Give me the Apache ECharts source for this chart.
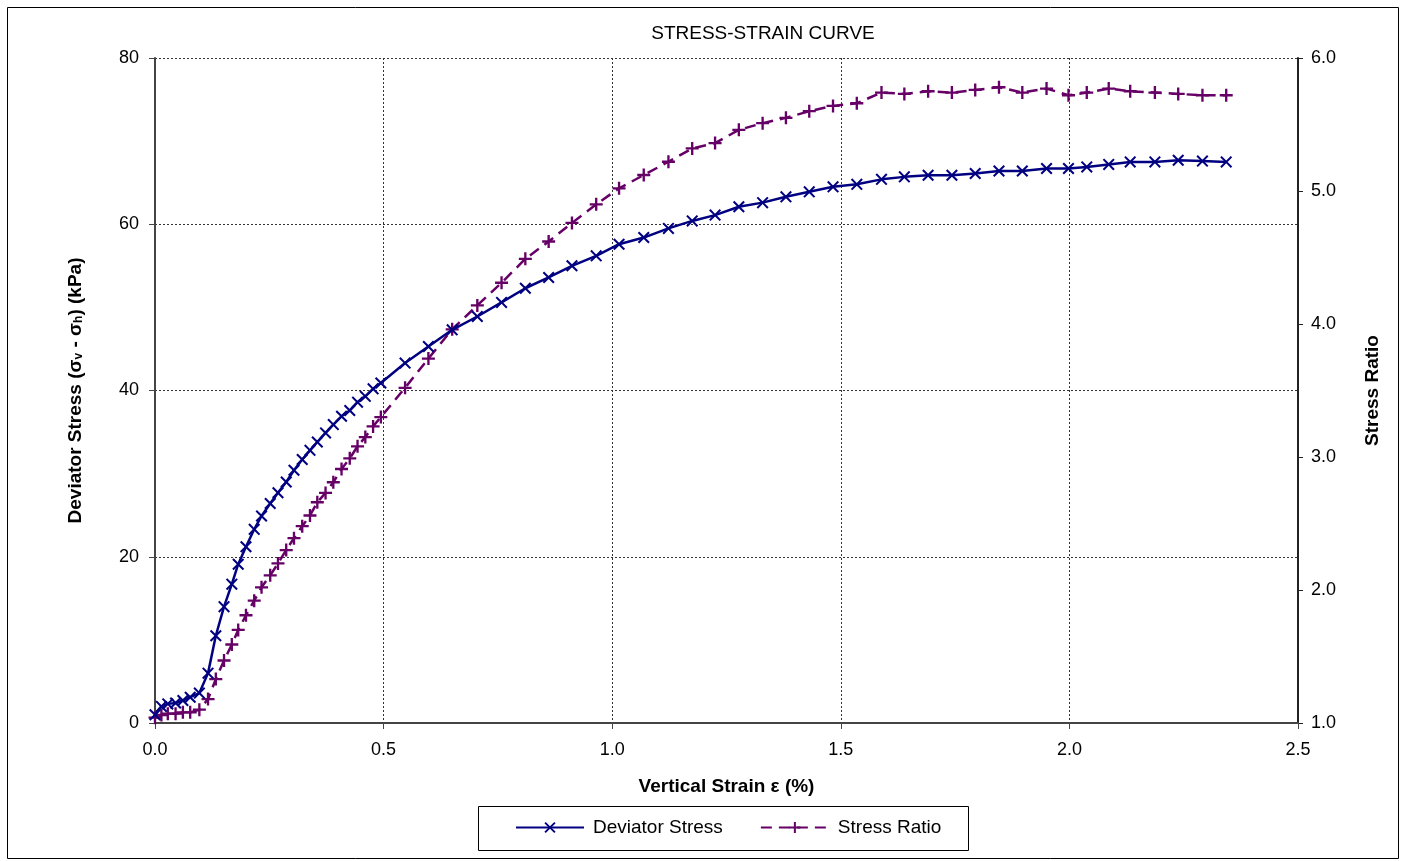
<!DOCTYPE html>
<html>
<head>
<meta charset="utf-8">
<script src="https://cdn.jsdelivr.net/npm/echarts@6/dist/echarts.min.js"></script>
<style>
  html, body { margin: 0; padding: 0; background: #fff; }
  #chart { width: 1406px; height: 861px; }
</style>
</head>
<body>
<div id="chart"></div>
<script>
// Vertical strain (%) at each reading
const strain = [0.000,0.014,0.028,0.045,0.061,0.077,0.097,0.116,0.133,0.151,
  0.168,0.182,0.199,0.217,0.233,0.252,0.269,0.287,0.304,0.322,
  0.339,0.355,0.373,0.390,0.408,0.426,0.443,0.460,0.477,0.494,
  0.547,0.598,0.650,0.705,0.758,0.810,0.861,0.912,0.965,1.015,
  1.069,1.123,1.175,1.225,1.277,1.329,1.380,1.431,1.483,1.535,
  1.589,1.639,1.691,1.743,1.794,1.846,1.897,1.950,1.998,2.038,
  2.086,2.133,2.187,2.238,2.291,2.343];

// Deviator stress (kPa)
const deviatorStress = [1.0,2.0,2.3,2.4,2.7,3.1,3.6,6.0,10.5,14.0,
  16.7,19.1,21.2,23.3,24.9,26.4,27.7,29.0,30.4,31.7,
  32.8,33.8,34.9,35.9,36.9,37.6,38.6,39.3,40.2,40.9,
  43.3,45.3,47.3,48.9,50.6,52.3,53.6,55.0,56.2,57.6,
  58.4,59.5,60.4,61.1,62.1,62.6,63.3,63.9,64.5,64.8,
  65.4,65.7,65.9,65.9,66.1,66.4,66.4,66.7,66.7,66.9,
  67.2,67.5,67.5,67.7,67.6,67.5];

// Stress ratio (sigma_v / sigma_h)
const stressRatio = [1.04,1.06,1.07,1.07,1.08,1.08,1.10,1.18,1.33,1.47,
  1.59,1.70,1.81,1.92,2.02,2.11,2.20,2.30,2.39,2.48,
  2.56,2.66,2.73,2.81,2.91,2.99,3.08,3.15,3.23,3.30,
  3.52,3.74,3.96,4.14,4.31,4.49,4.62,4.76,4.90,5.02,
  5.12,5.22,5.32,5.36,5.46,5.51,5.55,5.60,5.64,5.66,
  5.74,5.73,5.75,5.74,5.76,5.78,5.74,5.77,5.72,5.74,
  5.77,5.75,5.74,5.73,5.72,5.72];

const xTicks = { min: 0, max: 2.5, step: 0.5 };
const leftTicks = { min: 0, max: 80, step: 20 };
const rightTicks = { min: 1, max: 6, step: 1 };

const FONT = '"Liberation Sans", Arial, sans-serif';
const NAVY = '#000080';
const PURPLE = '#660066';

const crossMark = 'path://M0,12L12,0L50,38L88,0L100,12L62,50L100,88L88,100L50,62L12,100L0,88L38,50Z';
const plusMark = 'path://M41,0H59V41H100V59H59V100H41V59H0V41H41Z';

const chart = echarts.init(document.getElementById('chart'), null, { renderer: 'canvas' });

const gridLine = { show: true, lineStyle: { color: '#333', width: 1, type: [2, 2] } };
const axisLine = { show: true, lineStyle: { color: '#444', width: 2 } };

chart.setOption({
  animation: false,
  backgroundColor: '#fff',
  textStyle: { fontFamily: FONT },
  graphic: [
    {
      type: 'rect',
      shape: { x: 7.5, y: 7.5, width: 1391, height: 851 },
      style: { fill: 'none', stroke: '#000', lineWidth: 1 },
      silent: true, z: -10
    },
    {
      type: 'text',
      x: 763, y: 34,
      style: {
        text: 'STRESS-STRAIN CURVE',
        font: '19px ' + FONT,
        fill: '#000',
        align: 'center',
        verticalAlign: 'middle'
      }
    },
    {
      type: 'rect',
      shape: { x: 478.5, y: 806.5, width: 490, height: 44 },
      style: { fill: '#fff', stroke: '#000', lineWidth: 1 },
      silent: true, z: 0
    }
  ],
  legend: {
    left: 515,
    top: 818,
    padding: 0,
    itemWidth: 68,
    itemHeight: 14,
    itemGap: 37,
    z: 5,
    textStyle: { fontFamily: FONT, fontSize: 19, color: '#000', padding: [0, 0, 0, 4] },
    data: ['Deviator Stress', 'Stress Ratio']
  },
  grid: { left: 155, right: 108, top: 58, bottom: 138, containLabel: false },
  xAxis: {
    type: 'value',
    min: xTicks.min, max: xTicks.max, interval: xTicks.step,
    name: 'Vertical Strain ε (%)',
    nameLocation: 'middle',
    nameGap: 54,
    nameTextStyle: { fontFamily: FONT, fontSize: 19, fontWeight: 'bold', color: '#000' },
    axisLine: axisLine,
    axisTick: { show: true, length: 6, lineStyle: { color: '#444' } },
    axisLabel: { fontFamily: FONT, fontSize: 18, color: '#000', margin: 18,
      formatter: v => v.toFixed(1) },
    splitLine: gridLine
  },
  yAxis: [
    {
      type: 'value',
      position: 'left',
      min: leftTicks.min, max: leftTicks.max, interval: leftTicks.step,
      name: '{a|Deviator Stress (σ}{s|v}{a| - σ}{s|h}{a|) (kPa)}',
      nameLocation: 'middle',
      nameRotate: 90,
      nameGap: 70,
      nameTextStyle: {
        rich: {
          a: { fontFamily: FONT, fontSize: 19, fontWeight: 'bold', color: '#000', verticalAlign: 'bottom', lineHeight: 24 },
          s: { fontFamily: FONT, fontSize: 12, fontWeight: 'bold', color: '#000', verticalAlign: 'bottom', lineHeight: 18 }
        }
      },
      axisLine: axisLine,
      axisTick: { show: true, length: 6, lineStyle: { color: '#444' } },
      axisLabel: { fontFamily: FONT, fontSize: 18, color: '#000', margin: 16 },
      splitLine: gridLine
    },
    {
      type: 'value',
      position: 'right',
      min: rightTicks.min, max: rightTicks.max, interval: rightTicks.step,
      name: 'Stress Ratio',
      nameLocation: 'middle',
      nameRotate: 90,
      nameGap: 65,
      nameTextStyle: { fontFamily: FONT, fontSize: 19, fontWeight: 'bold', color: '#000' },
      axisLine: { show: true, lineStyle: { color: '#222', width: 2 } },
      axisTick: { show: true, length: 5, lineStyle: { color: '#222' } },
      axisLabel: { fontFamily: FONT, fontSize: 18, color: '#000', margin: 13,
        formatter: v => v.toFixed(1) },
      splitLine: { show: false }
    }
  ],
  series: [
    {
      name: 'Deviator Stress',
      type: 'line',
      yAxisIndex: 0,
      data: strain.map((s, i) => [s, deviatorStress[i]]),
      symbol: crossMark,
      symbolSize: 12,
      showAllSymbol: true,
      lineStyle: { color: NAVY, width: 2.5 },
      itemStyle: { color: NAVY },
      z: 3
    },
    {
      name: 'Stress Ratio',
      type: 'line',
      yAxisIndex: 1,
      data: strain.map((s, i) => [s, stressRatio[i]]),
      symbol: plusMark,
      symbolSize: 13,
      showAllSymbol: true,
      lineStyle: { color: PURPLE, width: 2.5, type: [11, 7] },
      itemStyle: { color: PURPLE },
      z: 2
    }
  ]
});
</script>
</body>
</html>
